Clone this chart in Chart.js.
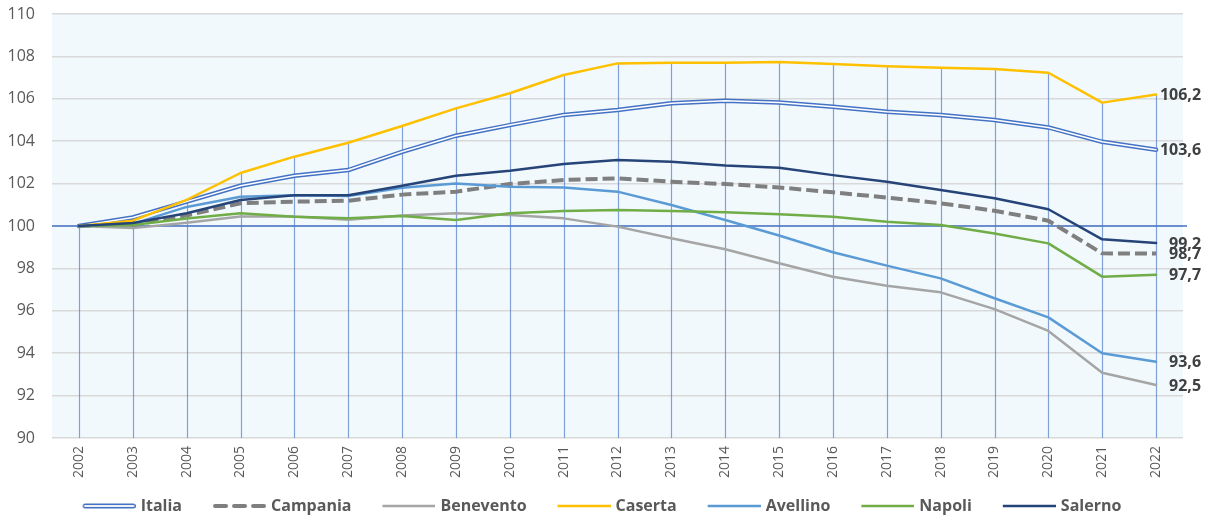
<!DOCTYPE html>
<html><head><meta charset="utf-8">
<script src="https://cdn.jsdelivr.net/npm/chart.js@4.4.1/dist/chart.umd.min.js"></script>
<style>html,body{margin:0;padding:0;background:#fff}#wrap{width:1210px;height:520px;position:relative}</style>
</head><body><div id="wrap"><canvas id="c" width="1210" height="520"></canvas></div>
<script>
const years = ['2002','2003','2004','2005','2006','2007','2008','2009','2010','2011','2012','2013','2014','2015','2016','2017','2018','2019','2020','2021','2022'];
const italia    = [100, 100.40, 101.15, 101.90, 102.37, 102.64, 103.50, 104.26, 104.76, 105.24, 105.47, 105.79, 105.91, 105.82, 105.63, 105.39, 105.24, 105.00, 104.65, 103.97, 103.6];
const campania  = [100, 100.05, 100.50, 101.07, 101.15, 101.19, 101.48, 101.62, 101.98, 102.17, 102.25, 102.09, 101.98, 101.82, 101.59, 101.34, 101.07, 100.72, 100.25, 98.71, 98.7];
const benevento = [100, 99.90, 100.15, 100.45, 100.45, 100.30, 100.50, 100.60, 100.52, 100.36, 99.97, 99.42, 98.90, 98.24, 97.61, 97.18, 96.87, 96.08, 95.05, 93.08, 92.5];
const caserta   = [100, 100.25, 101.23, 102.50, 103.27, 103.93, 104.72, 105.55, 106.26, 107.12, 107.67, 107.70, 107.70, 107.74, 107.64, 107.54, 107.46, 107.41, 107.23, 105.82, 106.2];
const avellino  = [100, 100.10, 100.90, 101.38, 101.45, 101.42, 101.80, 102.01, 101.85, 101.82, 101.62, 100.99, 100.28, 99.55, 98.76, 98.13, 97.53, 96.59, 95.69, 94.00, 93.6];
const napoli    = [100, 100.05, 100.35, 100.60, 100.44, 100.36, 100.47, 100.28, 100.60, 100.71, 100.75, 100.71, 100.65, 100.55, 100.44, 100.20, 100.05, 99.65, 99.18, 97.61, 97.7];
const salerno   = [100, 100.14, 100.60, 101.23, 101.45, 101.45, 101.90, 102.37, 102.61, 102.92, 103.11, 103.03, 102.85, 102.75, 102.40, 102.09, 101.70, 101.31, 100.79, 99.37, 99.2];
const yMin = 90, yMax = 110, yStep = 2, baseLine = 100;

const FONT = '"Open Sans", "DejaVu Sans", sans-serif';

// legend sample images: transparent lead-in, then a 53px line sample on the right
const ICON_W = 77, LINE_X0 = 24;
function legendIcon(color, width, dash, double) {
  const cv = document.createElement('canvas');
  cv.width = ICON_W; cv.height = 8;
  const c = cv.getContext('2d');
  const x0 = LINE_X0, x1 = ICON_W, yc = 4;
  if (double) {
    c.fillStyle = color;
    c.beginPath(); c.roundRect(x0, 1.5, x1 - x0, 5, 2.5); c.fill();
    c.fillStyle = '#FFFFFF';
    c.fillRect(x0 + 1.5, 3.1, x1 - x0 - 3, 1.8);
  } else {
    c.strokeStyle = color;
    c.lineWidth = width;
    c.lineCap = dash ? 'round' : 'butt';
    c.setLineDash(dash ? [11, 8] : []);
    c.beginPath();
    c.moveTo(dash ? x0 + 2 : x0, yc); c.lineTo(dash ? x1 - 2 : x1, yc);
    c.stroke();
  }
  return cv;
}

const ds = (label, data, color, width, order, extra) => Object.assign({
  label, data, borderColor: color, backgroundColor: color, borderWidth: width,
  pointRadius: 0, pointHoverRadius: 0, tension: 0, fill: false, order,
  borderJoinStyle: 'round', borderCapStyle: 'round'
}, extra || {});

const datasets = [
  ds('Italia', italia, '#4472C4', 4.5, 8, {legendStyle: legendIcon('#4472C4', 1.5, null, true), endLabel: true}),
  ds('Italia-inner', italia, '#FFFFFF', 1.5, 7, {hideLegend: true}),
  ds('Campania', campania, '#7F7F7F', 4, 6, {borderDash: [12, 5], borderCapStyle: 'butt', legendStyle: legendIcon('#7F7F7F', 4, true), endLabel: true}),
  ds('Benevento', benevento, '#A5A5A5', 2.5, 5, {legendStyle: legendIcon('#A5A5A5', 2.5), endLabel: true}),
  ds('Caserta', caserta, '#FFC000', 2.5, 4, {legendStyle: legendIcon('#FFC000', 2.5), endLabel: true}),
  ds('Avellino', avellino, '#5B9BD5', 2.5, 3, {legendStyle: legendIcon('#5B9BD5', 2.5), endLabel: true}),
  ds('Napoli', napoli, '#70AD47', 2.5, 2, {legendStyle: legendIcon('#70AD47', 2.5), endLabel: true}),
  ds('Salerno', salerno, '#264478', 2.5, 1, {legendStyle: legendIcon('#264478', 2.5), endLabel: true})
];

const decor = {
  id: 'decor',
  beforeDraw(chart) {
    const {ctx, chartArea: a} = chart;
    ctx.save();
    ctx.fillStyle = '#F1F9FD';
    ctx.fillRect(a.left, a.top, a.right - a.left, a.bottom - a.top);
    ctx.restore();
  },
  beforeDatasetsDraw(chart) {
    const {ctx, chartArea: a, scales: {x, y}} = chart;
    ctx.save();
    ctx.strokeStyle = 'rgba(68,114,196,0.65)';
    ctx.lineWidth = 1.2;
    years.forEach((yr, i) => {
      const top = Math.max(...datasets.map(d => d.data[i]));
      const px = Math.round(x.getPixelForValue(i)) + 0.5;
      ctx.beginPath();
      ctx.moveTo(px, y.getPixelForValue(top));
      ctx.lineTo(px, a.bottom);
      ctx.stroke();
    });
    const py = y.getPixelForValue(baseLine);
    ctx.strokeStyle = '#4472C4';
    ctx.lineWidth = 1.6;
    ctx.beginPath();
    ctx.moveTo(a.left, py);
    ctx.lineTo(a.right + 4, py);
    ctx.stroke();
    ctx.restore();
  },
  afterDatasetsDraw(chart) {
    const {ctx} = chart;
    ctx.save();
    ctx.font = 'bold 16px ' + FONT;
    ctx.fillStyle = '#404040';
    ctx.textAlign = 'right';
    ctx.textBaseline = 'middle';
    chart.data.datasets.forEach((d, i) => {
      if (!d.endLabel) return;
      const meta = chart.getDatasetMeta(i);
      const last = d.data.length - 1;
      const pt = meta.data[last];
      ctx.fillText(d.data[last].toFixed(1).replace('.', ','), pt.x + 45, pt.y + 1);
    });
    ctx.restore();
  }
};

new Chart(document.getElementById('c'), {
  type: 'line',
  data: {labels: years, datasets},
  options: {
    responsive: false,
    devicePixelRatio: 1,
    animation: false,
    layout: {padding: {top: 14, right: 27, left: 0, bottom: 0}},
    plugins: {
      tooltip: {enabled: false},
      legend: {
        position: 'bottom',
        maxHeight: 32,
        labels: {
          usePointStyle: true,
          pointStyleWidth: ICON_W - 6,
          padding: 10,
          color: '#595959',
          font: {family: FONT, size: 16, weight: 'bold'},
          generateLabels(chart) {
            return chart.data.datasets.map((d, i) => ({d, i})).filter(o => !o.d.hideLegend).map(({d, i}) => ({
              text: d.label,
              fillStyle: d.borderColor,
              strokeStyle: d.borderColor,
              lineWidth: 0,
              pointStyle: d.legendStyle,
              fontColor: '#595959',
              hidden: false,
              datasetIndex: i
            }));
          }
        }
      }
    },
    scales: {
      x: {
        type: 'category',
        offset: true,
        grid: {display: false, drawTicks: false},
        border: {display: false},
        ticks: {
          autoSkip: false, maxRotation: 90, minRotation: 90, padding: 8,
          color: '#595959', font: {family: FONT, size: 14}
        },
        afterFit(s) { s.height = 50; s.paddingLeft = 0; s.paddingRight = 0; }
      },
      y: {
        min: yMin, max: yMax,
        grid: {color: '#D9D9D9', lineWidth: 1.5, drawTicks: false},
        border: {display: false},
        ticks: {stepSize: yStep, padding: 17, color: '#595959', font: {family: FONT, size: 16}},
        afterFit(s) { s.width = 52; s.paddingTop = 0; s.paddingBottom = 0; }
      }
    }
  },
  plugins: [decor]
});
</script>
</body></html>
